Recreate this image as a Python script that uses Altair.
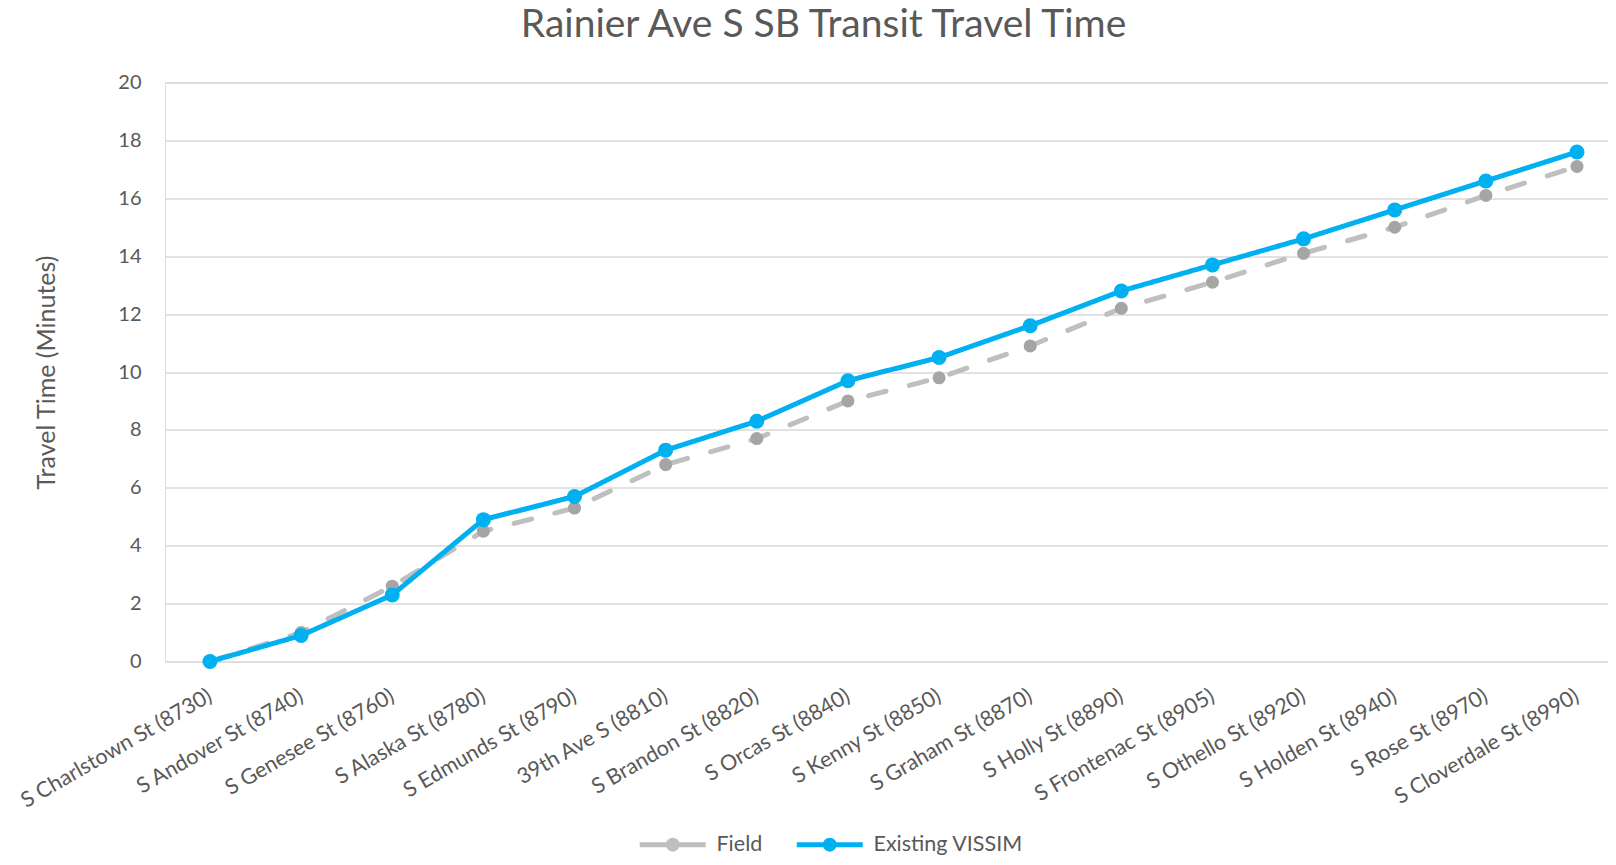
import altair as alt
import pandas as pd

stops = [
    "S Charlstown St (8730)", "S Andover St (8740)", "S Genesee St (8760)",
    "S Alaska St (8780)", "S Edmunds St (8790)", "39th Ave S (8810)",
    "S Brandon St (8820)", "S Orcas St (8840)", "S Kenny St (8850)",
    "S Graham St (8870)", "S Holly St (8890)", "S Frontenac St (8905)",
    "S Othello St (8920)", "S Holden St (8940)", "S Rose St (8970)",
    "S Cloverdale St (8990)",
]
field = [0, 1.0, 2.6, 4.5, 5.3, 6.8, 7.7, 9.0, 9.8, 10.9, 12.2, 13.1, 14.1, 15.0, 16.1, 17.1]
vissim = [0, 0.9, 2.3, 4.9, 5.7, 7.3, 8.3, 9.7, 10.5, 11.6, 12.8, 13.7, 14.6, 15.6, 16.6, 17.6]
series_names = ["Field", "Existing VISSIM"]
y_ticks = [0, 2, 4, 6, 8, 10, 12, 14, 16, 18, 20]

rows = []
for s, vals in zip(series_names, [field, vissim]):
    for stop, v in zip(stops, vals):
        rows.append({"stop": stop, "series": s, "value": v})
df = pd.DataFrame(rows)

FONT = "Lato"
TXT = "#595959"
W, H = 1443, 579

legend_path = ("M-6.6,0L6.6,0"
               "M-0.9,0A0.9,0.9,0,1,1,0.9,0A0.9,0.9,0,1,1,-0.9,0"
               "M-0.4,0A0.4,0.4,0,1,1,0.4,0A0.4,0.4,0,1,1,-0.4,0")

x_enc = alt.X(
    "stop:N", sort=stops,
    scale=alt.Scale(type="point", padding=0.417, align=0.592),
    axis=alt.Axis(title=None, labelAngle=-30, labelAlign="right", labelBaseline="middle",
                  labelPadding=33, labelFont=FONT, labelFontSize=21.5, labelColor=TXT,
                  labelLimit=0, domain=False, ticks=False, grid=False, labelOverlap=False),
)
y_enc = alt.Y(
    "value:Q", scale=alt.Scale(domain=[0, 20], nice=False),
    axis=alt.Axis(title="Travel Time (Minutes)", values=y_ticks, domain=False, ticks=False,
                  labelPadding=24, labelFont=FONT, labelFontSize=20, labelColor=TXT,
                  gridColor="#D9D9D9", gridWidth=1.5,
                  titleFont=FONT, titleFontSize=25, titleColor=TXT, titleFontWeight="normal",
                  titleAngle=270, titleAlign="center", titleBaseline="middle",
                  titleX=-119, titleY=H / 2),
)
color_enc = alt.Color(
    "series:N",
    scale=alt.Scale(domain=series_names, range=["#BFBFBF", "#00B0F0"]),
    legend=alt.Legend(title=None, orient="none", direction="horizontal",
                      legendX=497, legendY=751, padding=0,
                      symbolType=legend_path, symbolSize=100, symbolStrokeWidth=5,
                      labelFont=FONT, labelFontSize=21.5, labelColor=TXT,
                      labelOffset=33, columnPadding=23),
)
fill_enc = alt.Fill("series:N", scale=alt.Scale(domain=series_names, range=["#A5A5A5", "#00B0F0"]),
                    legend=None)

base = alt.Chart(df).encode(x=x_enc, y=y_enc)

layers = []
for s, dash, psize in [("Field", [18, 24], 170), ("Existing VISSIM", [1, 0], 225)]:
    sub = base.transform_filter(alt.datum.series == s)
    line = sub.mark_line(strokeWidth=5, strokeCap="round", strokeJoin="round",
                         strokeDash=dash).encode(color=color_enc)
    pts = sub.mark_point(filled=True, opacity=1, size=psize, shape="circle",
                         strokeWidth=0).encode(fill=fill_enc)
    layers += [line, pts]

chart = alt.layer(*layers).properties(
    width=W, height=H,
    title=alt.TitleParams("Rainier Ave S SB Transit Travel Time", font=FONT, fontSize=39,
                          fontWeight="normal", color=TXT, anchor="middle", dx=-63, dy=13,
                          baseline="alphabetic", offset=10),
    autosize=alt.AutoSizeParams(type="none"),
    padding={"left": 157, "top": 74.5, "right": 0, "bottom": 195.5},
).configure_view(stroke=None).configure(background="white")

chart.save("out.html", embed_options={"renderer": "svg", "actions": False})
